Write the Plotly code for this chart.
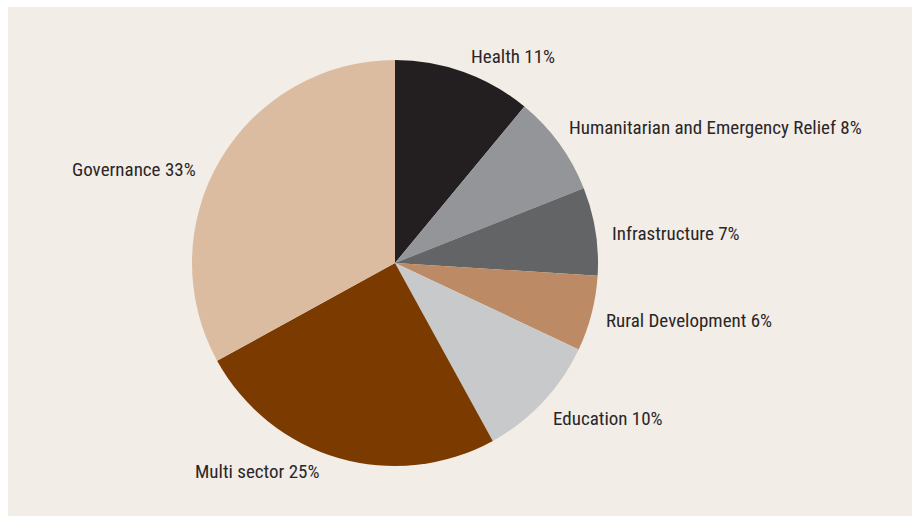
import plotly.graph_objects as go

# Sector shares (percent)
sectors = ["Health", "Humanitarian and Emergency Relief", "Infrastructure",
           "Rural Development", "Education", "Multi sector", "Governance"]
shares = [11, 8, 7, 6, 10, 25, 33]
colors = ["#231f20", "#939598", "#636466", "#bc8a64", "#c8c9ca", "#7b3a00", "#dbbca1"]

W, H = 912, 516
cx, cy, r = 395, 263, 203

# label anchor points in pixels (left edge x, middle y)
label_pos = [
    (469, 57),
    (567, 127),
    (610, 234),
    (604, 320),
    (551, 418),
    (193, 471),
    (70, 170),
]

fig = go.Figure(go.Pie(
    labels=sectors,
    values=shares,
    sort=False,
    direction="clockwise",
    rotation=0,
    marker=dict(colors=colors, line=dict(width=0)),
    textinfo="none",
    hoverinfo="label+percent",
    showlegend=False,
    domain=dict(x=[(cx - r) / W, (cx + r) / W],
                y=[(H - cy - r) / H, (H - cy + r) / H]),
))

for name, val, (px, py) in zip(sectors, shares, label_pos):
    fig.add_annotation(
        x=px / W, y=1 - py / H, xref="paper", yref="paper",
        text=f"{name} {val}%", showarrow=False,
        xanchor="left", yanchor="middle",
        font=dict(family="Roboto Condensed, sans-serif", size=19, color="#2a2627"),
    )

fig.add_shape(type="rect", xref="paper", yref="paper",
              x0=8 / W, x1=1, y0=0, y1=1 - 7 / H,
              fillcolor="#f2ede7", line=dict(width=0), layer="below")

fig.update_layout(
    width=W, height=H,
    margin=dict(l=0, r=0, t=0, b=0),
    paper_bgcolor="#ffffff",
)

fig.write_html("out.html")
